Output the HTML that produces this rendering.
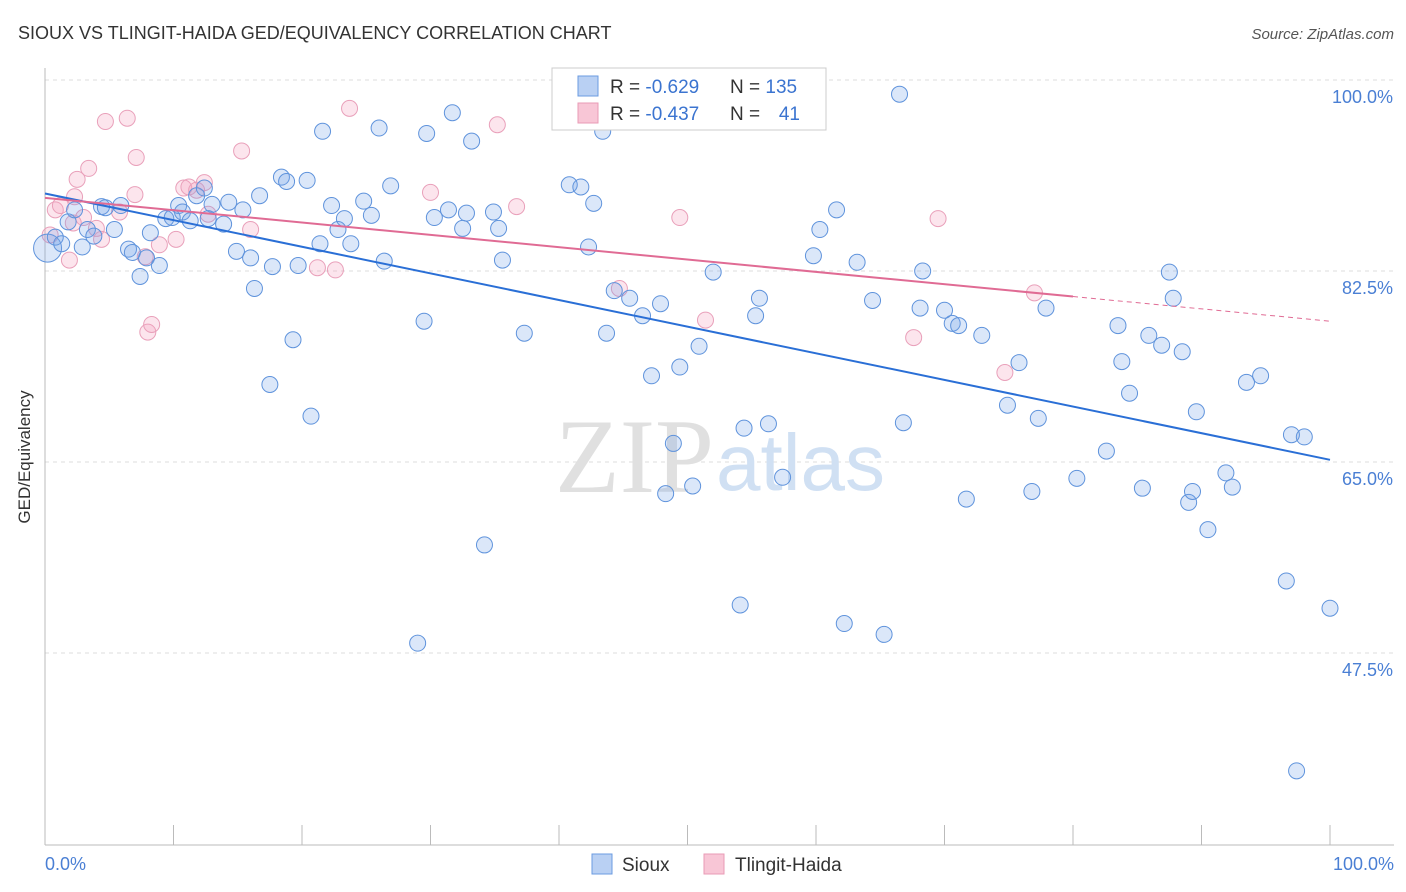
<!DOCTYPE html>
<html><head><meta charset="utf-8"><style>
body{margin:0;background:#fff;font-family:"Liberation Sans",sans-serif;}
svg{display:block}
</style></head><body>
<svg id="chart" width="1406" height="892" viewBox="0 0 1406 892">
<text x="18" y="39" font-size="18" fill="#333">SIOUX VS TLINGIT-HAIDA GED/EQUIVALENCY CORRELATION CHART</text>
<text x="1394" y="39" font-size="15" fill="#555" font-style="italic" text-anchor="end">Source: ZipAtlas.com</text>
<g id="grid"></g>
<text x="714" y="492" font-size="106" fill="#e0e0e0" font-family="Liberation Serif,serif" text-anchor="end">ZIP</text>
<text x="716" y="490" font-size="80" fill="#d0e0f3" text-anchor="start">atlas</text>
<g id="axes"></g>
<g id="pinkpts"></g>
<g id="bluepts"></g>
<g id="lines"></g>
<text x="30" y="457" font-size="17" fill="#333" text-anchor="middle" transform="rotate(-90 30 457)">GED/Equivalency</text>
<text x="45" y="870" font-size="18" fill="#4a7fd4">0.0%</text>
<text x="1394" y="870" font-size="18" fill="#4a7fd4" text-anchor="end">100.0%</text>
<g>
<rect x="552" y="68" width="274" height="62" fill="#fff" stroke="#ccc"/>
<rect x="578" y="76" width="20" height="20" fill="#b9d0f3" stroke="#6b9be0"/>
<rect x="578" y="103" width="20" height="20" fill="#f8c6d6" stroke="#e99bb6"/>
<text x="610" y="93" font-size="19" fill="#333">R = <tspan fill="#3b74d0">-0.629</tspan></text>
<text x="730" y="93" font-size="19" fill="#333">N = <tspan fill="#3b74d0">135</tspan></text>
<text x="610" y="120" font-size="19" fill="#333">R = <tspan fill="#3b74d0">-0.437</tspan></text>
<text x="730" y="120" font-size="19" fill="#333">N = </text>
<text x="800" y="120" font-size="19" fill="#3b74d0" text-anchor="end">41</text>
</g>
<g>
<rect x="592" y="854" width="20" height="20" fill="#b9d0f3" stroke="#6b9be0"/>
<text x="622" y="871" font-size="19" fill="#333">Sioux</text>
<rect x="704" y="854" width="20" height="20" fill="#f8c6d6" stroke="#e99bb6"/>
<text x="735" y="871" font-size="19" fill="#333">Tlingit-Haida</text>
</g>
</svg>
<script>
const yTicks=[100,82.5,65,47.5];
const yTickLabels=["100.0%","82.5%","65.0%","47.5%"];
const xTicks=[0,10,20,30,40,50,60,70,80,90,100];
const siouxX=[0.2,0.8,1.3,1.8,2.3,2.9,3.3,3.8,4.4,4.7,5.4,5.9,6.5,6.8,7.4,7.9,8.2,8.9,9.4,9.9,10.4,10.7,11.3,11.8,12.4,13.0,12.7,13.9,14.3,14.9,15.4,16.0,16.3,16.7,17.5,17.7,18.4,18.8,19.3,19.7,20.4,20.7,21.4,21.6,22.3,22.8,23.3,23.8,24.8,25.4,26.0,26.4,26.9,29.0,29.5,29.7,30.3,31.4,31.7,32.5,32.8,33.2,34.2,34.9,35.3,35.6,37.3,40.8,41.7,42.3,42.7,43.4,43.7,44.3,45.5,46.5,47.2,47.9,48.3,48.9,49.4,50.4,50.9,52.0,54.1,54.4,55.3,55.6,56.3,57.4,59.8,60.3,61.6,62.2,63.2,64.4,65.3,66.5,66.8,68.1,68.3,70.0,70.6,71.1,71.7,72.9,74.9,75.8,76.8,77.3,77.9,80.3,82.6,83.5,83.8,84.4,85.4,85.9,86.9,87.5,87.8,88.5,89.0,89.3,89.6,90.5,91.9,92.4,93.5,94.6,96.6,97.0,97.4,98.0,100.0];
const siouxY=[84.6,85.6,85.0,87.0,88.1,84.7,86.3,85.7,88.4,88.3,86.3,88.5,84.5,84.2,82.0,83.7,86.0,83.0,87.3,87.4,88.5,87.9,87.1,89.4,90.1,88.6,87.3,86.8,88.8,84.3,88.1,83.7,80.9,89.4,72.1,82.9,91.1,90.7,76.2,83.0,90.8,69.2,85.0,95.3,88.5,86.3,87.3,85.0,88.9,87.6,95.6,83.4,90.3,48.4,77.9,95.1,87.4,88.1,97.0,86.4,87.8,94.4,57.4,87.9,86.4,83.5,76.8,90.4,90.2,84.7,88.7,95.3,76.8,80.7,80.0,78.4,72.9,79.5,62.1,66.7,73.7,62.8,75.6,82.4,51.9,68.1,78.4,80.0,68.5,63.6,83.9,86.3,88.1,50.2,83.3,79.8,49.2,98.7,68.6,79.1,82.5,78.9,77.7,77.5,61.6,76.6,70.2,74.1,62.3,69.0,79.1,63.5,66.0,77.5,74.2,71.3,62.6,76.6,75.7,82.4,80.0,75.1,61.3,62.3,69.6,58.8,64.0,62.7,72.3,72.9,54.1,67.5,36.7,67.3,51.6];
const tlingitX=[0.4,0.8,1.2,1.9,2.2,2.5,2.3,3.0,3.4,4.0,4.4,4.7,5.8,6.4,7.1,7.0,7.8,8.0,8.3,8.9,10.2,10.8,11.2,11.8,12.4,12.7,15.3,16.0,21.2,22.6,23.7,30.0,35.2,36.7,44.7,49.4,51.4,67.6,69.5,74.7,77.0];
const tlingitY=[85.8,88.1,88.5,83.5,86.9,90.9,89.3,87.4,91.9,86.4,85.4,96.2,87.9,96.5,92.9,89.5,83.8,76.9,77.6,84.9,85.4,90.1,90.2,89.9,90.6,87.7,93.5,86.3,82.8,82.6,97.4,89.7,95.9,88.4,80.9,87.4,78.0,76.4,87.3,73.2,80.5];
const siouxLine=[89.6,65.2];
const tlingitLine=[89.2,77.9];
const tlingitSolidEnd=80;

const NS="http://www.w3.org/2000/svg";
const X=v=>45+v*12.85;
const Y=v=>80+(100-v)*10.914;
function mk(t,a,p){const e=document.createElementNS(NS,t);for(const k in a)e.setAttribute(k,a[k]);p.appendChild(e);return e;}
const grid=document.getElementById('grid'),axes=document.getElementById('axes');
yTicks.forEach((t,i)=>{
 const l=mk('line',{x1:45,x2:1394,y1:Y(t),y2:Y(t),stroke:'#ddd','stroke-dasharray':'4,4'},grid);
 
 
 const tx=mk('text',{x:1393,y:Y(t)+23,'font-size':18,fill:'#4a7fd4','text-anchor':'end'},grid);
 tx.textContent=yTickLabels[i];
 
 
});
const ax=mk('line',{x1:45,x2:45,y1:68,y2:845,stroke:'#bbb'},axes);


const bx=mk('line',{x1:45,x2:1394,y1:845,y2:845,stroke:'#bbb'},axes);


xTicks.forEach(t=>{const l=mk('line',{x1:X(t),x2:X(t),y1:825,y2:845,stroke:'#bbb'},axes);
 
 });
const pp=document.getElementById('pinkpts'),bp=document.getElementById('bluepts');
tlingitX.forEach((x,i)=>{const c=mk('circle',{cx:X(x),cy:Y(tlingitY[i]),r:8,fill:'rgba(243,160,190,0.28)',stroke:'#e9a0ba','stroke-width':1},pp);
 
 });
siouxX.forEach((x,i)=>{const c=mk('circle',{cx:X(x),cy:Y(siouxY[i]),r:i==0?14:8,fill:'rgba(110,160,230,0.25)',stroke:'#5f93dc','stroke-width':1},bp);
 
 });
const ln=document.getElementById('lines');
const b=mk('line',{x1:X(0),y1:Y(siouxLine[0]),x2:X(100),y2:Y(siouxLine[1]),stroke:'#2a6fd6','stroke-width':2},ln);


const py=x=>tlingitLine[0]+(tlingitLine[1]-tlingitLine[0])*x/100;
const p1=mk('line',{x1:X(0),y1:Y(py(0)),x2:X(tlingitSolidEnd),y2:Y(py(tlingitSolidEnd)),stroke:'#e06b94','stroke-width':2},ln);


const p2=mk('line',{x1:X(tlingitSolidEnd),y1:Y(py(tlingitSolidEnd)),x2:X(100),y2:Y(py(100)),stroke:'#e06b94','stroke-width':1,'stroke-dasharray':'5,4'},ln);


</script>
</body></html>
